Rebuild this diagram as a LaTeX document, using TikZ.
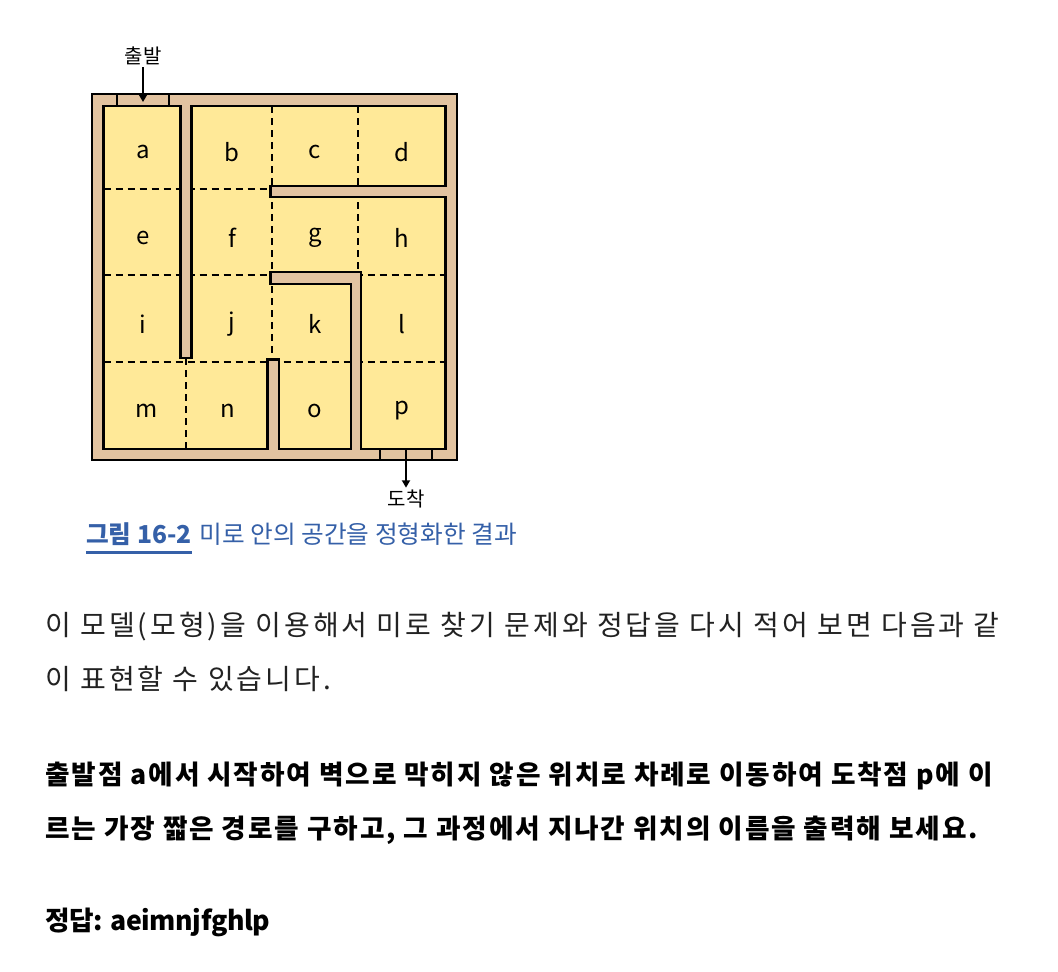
\documentclass[tikz,border=0pt]{standalone}
\usepackage{fontspec}
\usetikzlibrary{arrows.meta}
\newfontfamily\kr{Noto Sans CJK KR}
\newfontfamily\krbody[LetterSpace=10.8]{Noto Sans CJK KR}
\newfontfamily\krbold[LetterSpace=7]{Noto Sans CJK KR}
\newfontfamily\krans[LetterSpace=-1.5]{Noto Sans CJK KR}
\definecolor{mzyellow}{RGB}{255,233,152}
\definecolor{mztan}{RGB}{226,195,160}
\definecolor{capblue}{RGB}{53,96,168}
\definecolor{bodygray}{RGB}{34,34,34}
\newcommand\mazeP{(103.5,106) -- (180.5,106) -- (180.5,358) -- (191.5,358) -- (191.5,106) -- (445.5,106) -- (445.5,186) -- (270.5,186) -- (270.5,197) -- (445.5,197) -- (445.5,449) -- (361,449) -- (361,272) -- (270.5,272) -- (270.5,284) -- (351,284) -- (351,449) -- (279,449) -- (279,359.5) -- (267.5,359.5) -- (267.5,449) -- (103.5,449) -- cycle}
\tikzset{
  wallline/.style={black, line width=1.7pt, line join=miter},
  gridline/.style={black, line width=1.4pt, dash pattern=on 5.25pt off 3.75pt},
  cellletter/.style={font=\kr\fontsize{18}{18}\selectfont, inner sep=0pt},
  mazelabel/.style={font=\kr\fontsize{15}{15}\selectfont, inner sep=1.5pt},
  arr/.style={black, line width=1.5pt, -{Triangle[width=6pt,length=5.5pt]}},
  bodytext/.style={anchor=base west, inner sep=0pt, text=bodygray, font=\krbody\fontsize{21}{21}\selectfont},
  boldtext/.style={anchor=base west, inner sep=0pt, text=black, font=\krbold\bfseries\fontsize{20}{20}\selectfont},
}
\begin{document}
\begin{tikzpicture}[x=0.75pt,y=-0.75pt]
\useasboundingbox (0,0) rectangle (1058,972);
\fill[white] (0,0) rectangle (1058,972);
% maze background (walls)
\fill[mztan] (92,94) rectangle (457,460);
\fill[mzyellow] \mazeP;
\begin{scope}
  \clip \mazeP;
  \draw[gridline] (103.5,189) -- (445.5,189) (103.5,275) -- (445.5,275) (103.5,362) -- (445.5,362)
                  (186,106) -- (186,449) (272,106) -- (272,449) (358,106) -- (358,449);
\end{scope}
\draw[wallline] \mazeP;
\draw[wallline] (92,94) rectangle (457,460);
% entrance / exit ticks
\draw[wallline] (117,94) -- (117,106) (169,94) -- (169,106);
\draw[wallline] (380,449) -- (380,460) (432,449) -- (432,460);
% cell letters
\node[cellletter] (la) at (143,152) {a};
\node[cellletter] (lb) at (232,152) {b};
\node[cellletter] (lc) at (315,152) {c};
\node[cellletter] (ld) at (402,152) {d};
\node[cellletter] (le) at (143,238) {e};
\node[cellletter] (lf) at (232,238) {f};
\node[cellletter] (lg) at (315,238) {g};
\node[cellletter] (lh) at (402,238) {h};
\node[cellletter] (li) at (143,324) {i};
\node[cellletter] (lj) at (232,324) {j};
\node[cellletter] (lk) at (315,324) {k};
\node[cellletter] (ll) at (402,324) {l};
\node[cellletter] (lm) at (147,411) {m};
\node[cellletter] (ln) at (228,411) {n};
\node[cellletter] (lo) at (315,411) {o};
\node[cellletter] (lp) at (402,411) {p};
% start / goal
\node[mazelabel] (startlbl) at (143,56) {출발};
\coordinate (startpt) at (143,102);
\draw[arr] (startlbl) -- (startpt);
\node[mazelabel] (endlbl) at (406,499) {도착};
\coordinate (exitpt) at (406,449);
\draw[arr] (exitpt) -- (endlbl);
% caption
\node[anchor=base west, inner sep=0pt, text=capblue, font=\kr\bfseries\fontsize{18.5}{18.5}\selectfont] (capnum) at (86,543) {그림 16-2};
\node[anchor=base west, inner sep=0pt, text=capblue, font=\kr\fontsize{18.5}{18.5}\selectfont] (captext) at ([xshift=5.5pt]capnum.base east) {미로 안의 공간을 정형화한 결과};
\draw[capblue, line width=2pt] ([yshift=-7pt]capnum.base west) -- ([yshift=-7pt]capnum.base east);
% body text
\node[bodytext] (body1) at (45,635) {이 모델(모형)을 이용해서 미로 찾기 문제와 정답을 다시 적어 보면 다음과 같};
\node[bodytext] (body2) at (45,689) {이 표현할 수 있습니다.};
\node[boldtext] (bold1) at (45,784) {출발점 a에서 시작하여 벽으로 막히지 않은 위치로 차례로 이동하여 도착점 p에 이};
\node[boldtext] (bold2) at (45,838) {르는 가장 짧은 경로를 구하고, 그 과정에서 지나간 위치의 이름을 출력해 보세요.};
\node[anchor=base west, inner sep=0pt, text=black, font=\krans\bfseries\fontsize{20}{20}\selectfont] (answer) at (45,930) {정답: aeimnjfghlp};
\end{tikzpicture}
\end{document}
